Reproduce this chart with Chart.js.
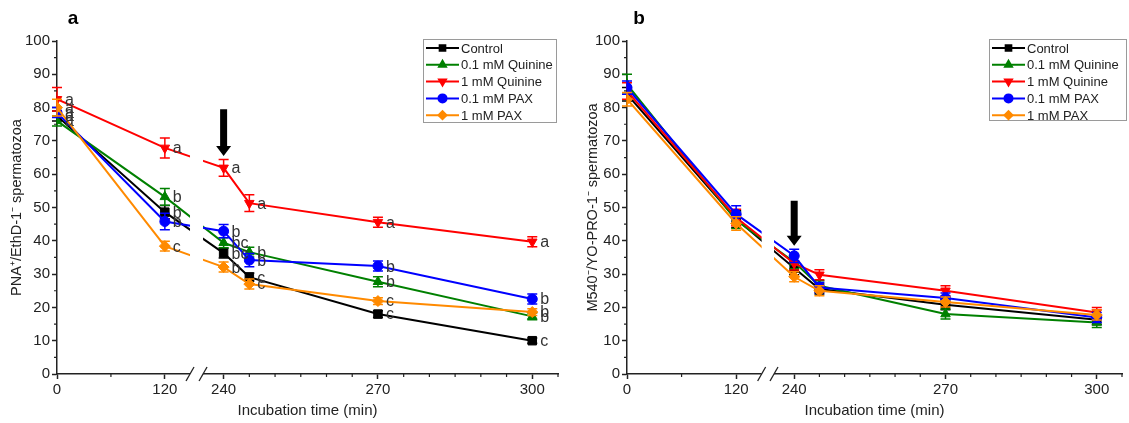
<!DOCTYPE html>
<html>
<head>
<meta charset="utf-8">
<script src="https://cdn.jsdelivr.net/npm/chart.js@4.4.0/dist/chart.umd.min.js"></script>
<style>
   html, body { margin: 0; padding: 0; background: #fff; }
   #wrap { display: flex; width: 1129px; height: 423px; }
   canvas { display: block; }
</style>
</head>
<body>
<div id="wrap">
   <canvas id="chartA" width="565" height="423"></canvas>
   <canvas id="chartB" width="564" height="423"></canvas>
</div>
<script>
/* Données */
const times = [0, 120, 240, 245, 270, 300];
const xTicks = [0, 120, 240, 270, 300];
const xMinorTicks = [60, 245, 250, 255, 260, 265, 275, 280, 285, 290, 295, 305];
const yMinorTicks = [5, 15, 25, 35, 45, 55, 65, 75, 85, 95];

const seriesNames = ['Control', '0.1 mM Quinine', '1 mM Quinine', '0.1 mM PAX', '1 mM PAX'];
const seriesColors = ['#000000', '#008000', '#ff0000', '#0000ff', '#ff8a00'];
const seriesMarkers = ['rect', 'triangle', 'triangle', 'circle', 'rectRot'];
const seriesRotation = [0, 0, 180, 0, 0];
const markerRadius = { rect: 6, triangle: 5.5, circle: 5, rectRot: 5.5 };

// Panneau a : PNA+/EthD-1-
const aControl = [77.5, 48.6, 36.3, 29.1, 18.0, 10.0];
const aQuinine01 = [76.0, 53.2, 39.4, 36.6, 27.7, 17.3];
const aQuinine1 = [82.5, 67.9, 61.9, 51.3, 45.6, 39.7];
const aPax01 = [78.5, 45.8, 42.9, 34.2, 32.4, 22.5];
const aPax1 = [80.0, 38.4, 32.1, 27.0, 21.9, 18.6];

const aControlErr = [1.5, 2.0, 1.5, 1.2, 1.0, 0.8];
const aQuinine01Err = [1.5, 2.5, 1.5, 1.5, 1.5, 1.0];
const aQuinine1Err = [3.5, 3.0, 2.5, 2.5, 1.5, 1.5];
const aPax01Err = [1.5, 2.5, 2.0, 2.0, 1.5, 1.5];
const aPax1Err = [2.5, 1.5, 1.5, 1.5, 1.0, 1.0];

const aControlLetters = ['a', 'b', 'bc', 'c', 'c', 'c'];
const aQuinine01Letters = ['a', 'b', 'bc', 'b', 'b', 'b'];
const aQuinine1Letters = ['a', 'a', 'a', 'a', 'a', 'a'];
const aPax01Letters = ['a', 'b', 'b', 'b', 'b', 'b'];
const aPax1Letters = ['a', 'c', 'b', 'c', 'c', 'b'];

// Panneau b : M540-/YO-PRO-1-
const bControl = [84.0, 46.5, 31.8, 25.5, 20.8, 16.3];
const bQuinine01 = [87.0, 46.2, 33.6, 26.5, 18.0, 15.5];
const bQuinine1 = [85.0, 47.0, 33.2, 29.8, 25.0, 18.5];
const bPax01 = [86.0, 48.0, 35.5, 26.0, 22.8, 17.0];
const bPax1 = [82.5, 45.2, 29.2, 25.0, 21.6, 17.7];

const bControlErr = [2.0, 2.5, 2.0, 1.5, 1.5, 1.5];
const bQuinine01Err = [3.0, 2.5, 2.0, 1.5, 1.5, 1.5];
const bQuinine1Err = [2.5, 2.5, 2.0, 1.5, 1.5, 1.5];
const bPax01Err = [2.0, 2.5, 2.0, 1.5, 1.5, 1.5];
const bPax1Err = [2.0, 2.0, 1.5, 1.5, 1.5, 1.5];

// Flèches (temps, haut, pointe)
const arrowTime = 240;
const arrowA = [79.5, 65.5];
const arrowB = [52.0, 38.5];

const FONT = "'Liberation Sans', Arial, sans-serif";
const INK = '#222222';
Chart.defaults.font.family = FONT;
Chart.defaults.color = INK;

/* Axe x coupé (0..148 // 236..305) */
class BrokenLinearScale extends Chart.LinearScale {
   buildTicks() {
      return xTicks.map(v => ({ value: v }));
   }
   breakPixels() {
      const o = this.options;
      const w1 = this.width * o.brkFrac;
      return [this.left + w1, this.left + w1 + this.width * o.brkGap];
   }
   getPixelForValue(value) {
      const o = this.options;
      const [g0, g1] = this.breakPixels();
      if (value <= o.brkStart) {
         return this.left + (value - this.min) / (o.brkStart - this.min) * (g0 - this.left);
      }
      return g1 + (value - o.brkEnd) / (this.max - o.brkEnd) * (this.right - g1);
   }
   getValueForPixel(pixel) {
      const o = this.options;
      const [g0, g1] = this.breakPixels();
      if (pixel <= g0) return this.min + (pixel - this.left) / (g0 - this.left) * (o.brkStart - this.min);
      return o.brkEnd + (pixel - g1) / (this.right - g1) * (this.max - o.brkEnd);
   }
}
BrokenLinearScale.id = 'brokenLinear';
BrokenLinearScale.defaults = {};
Chart.register(BrokenLinearScale);

function makeDatasets(values, errors) {
   return values.map((vals, i) => ({
      label: seriesNames[i],
      data: times.map((t, k) => ({ x: t, y: vals[k] })),
      errors: errors[i],
      borderColor: seriesColors[i],
      backgroundColor: seriesColors[i],
      pointBackgroundColor: seriesColors[i],
      pointBorderColor: seriesColors[i],
      pointStyle: seriesMarkers[i],
      pointRotation: seriesRotation[i],
      pointRadius: markerRadius[seriesMarkers[i]],
      pointBorderWidth: 1,
      borderWidth: 2,
      tension: 0,
      order: 4 - i
   }));
}

function decorPlugin(cfg) {
   return {
      id: 'decor',
      // Barres d'erreur sous chaque série
      beforeDatasetDraw(chart, args) {
         const ctx = chart.ctx;
         const ds = chart.data.datasets[args.index];
         const y = chart.scales.y;
         ctx.save();
         ctx.strokeStyle = ds.borderColor;
         ctx.lineWidth = 1.5;
         args.meta.data.forEach((pt, k) => {
            const v = ds.data[k].y, e = ds.errors[k];
            const y0 = y.getPixelForValue(v - e), y1 = y.getPixelForValue(v + e);
            ctx.beginPath();
            ctx.moveTo(pt.x, y0); ctx.lineTo(pt.x, y1);
            ctx.moveTo(pt.x - 5, y0); ctx.lineTo(pt.x + 5, y0);
            ctx.moveTo(pt.x - 5, y1); ctx.lineTo(pt.x + 5, y1);
            ctx.stroke();
         });
         ctx.restore();
      },
      afterDatasetsDraw(chart) {
         if (!cfg.letters) return;
         const ctx = chart.ctx;
         ctx.save();
         ctx.font = `16px ${FONT}`;
         ctx.fillStyle = '#333';
         ctx.textAlign = 'left';
         ctx.textBaseline = 'middle';
         chart.data.datasets.forEach((ds, i) => {
            const meta = chart.getDatasetMeta(i);
            meta.data.forEach((pt, k) => {
               ctx.fillText(cfg.letters[i][k], pt.x + 8, pt.y + 1);
            });
         });
         ctx.restore();
      },
      afterDraw(chart) {
         const ctx = chart.ctx;
         const xs = chart.scales.x, ys = chart.scales.y;
         const area = chart.chartArea;
         ctx.save();

         // Coupure de l'axe x
         const [g0, g1] = xs.breakPixels();
         ctx.fillStyle = '#fff';
         ctx.fillRect(g0, area.top, g1 - g0, area.bottom - area.top + 2);
         ctx.strokeStyle = INK;
         ctx.lineWidth = 1.3;
         [g0, g1].forEach(gx => {
            ctx.beginPath();
            ctx.moveTo(gx - 4, area.bottom + 7);
            ctx.lineTo(gx + 4, area.bottom - 7);
            ctx.stroke();
         });

         // Graduations secondaires
         ctx.lineWidth = 1.2;
         ctx.beginPath();
         yMinorTicks.forEach(v => {
            const py = ys.getPixelForValue(v);
            ctx.moveTo(area.left - 3, py); ctx.lineTo(area.left, py);
         });
         xMinorTicks.forEach(v => {
            const px = xs.getPixelForValue(v);
            ctx.moveTo(px, area.bottom); ctx.lineTo(px, area.bottom + 3);
         });
         ctx.stroke();

         // Flèche
         const ax = xs.getPixelForValue(arrowTime);
         const top = ys.getPixelForValue(cfg.arrow[0]);
         const tip = ys.getPixelForValue(cfg.arrow[1]);
         ctx.fillStyle = '#000';
         ctx.beginPath();
         ctx.moveTo(ax - 3.5, top);
         ctx.lineTo(ax + 3.5, top);
         ctx.lineTo(ax + 3.5, tip - 10);
         ctx.lineTo(ax + 7.5, tip - 10);
         ctx.lineTo(ax, tip);
         ctx.lineTo(ax - 7.5, tip - 10);
         ctx.lineTo(ax - 3.5, tip - 10);
         ctx.closePath();
         ctx.fill();

         // Légende
         const L = cfg.legend;
         ctx.strokeStyle = '#9a9a9a';
         ctx.lineWidth = 1;
         ctx.strokeRect(L.left + 0.5, L.top + 0.5, L.width, L.height);
         ctx.font = `13px ${FONT}`;
         ctx.textAlign = 'left';
         ctx.textBaseline = 'middle';
         chart.data.datasets.forEach((ds, i) => {
            const ry = L.top + 9 + i * 16.8;
            ctx.strokeStyle = ds.borderColor;
            ctx.lineWidth = 2;
            ctx.beginPath();
            ctx.moveTo(L.left + 3, ry); ctx.lineTo(L.left + L.line, ry);
            ctx.stroke();
            ctx.fillStyle = ds.borderColor;
            Chart.helpers.drawPoint(ctx, {
               pointStyle: ds.pointStyle, rotation: ds.pointRotation,
               radius: 4, borderWidth: 1
            }, L.left + 3 + (L.line - 3) / 2, ry);
            ctx.fillStyle = INK;
            ctx.fillText(ds.label, L.left + L.line + 2, ry + 1);
         });

         // Lettre du panneau
         ctx.font = `bold 19px ${FONT}`;
         ctx.fillStyle = '#000';
         ctx.textAlign = 'center';
         ctx.textBaseline = 'middle';
         ctx.fillText(cfg.panel, cfg.panelX, 19);
         ctx.restore();
      }
   };
}

function createChart(canvasId, cfg) {
   return new Chart(document.getElementById(canvasId), {
      type: 'line',
      data: { datasets: makeDatasets(cfg.values, cfg.errors) },
      options: {
         responsive: false,
         animation: false,
         events: [],
         layout: { padding: { left: cfg.padLeft, right: cfg.padRight, top: 41, bottom: 0 } },
         scales: {
            x: {
               type: 'brokenLinear',
               min: 0,
               max: 305,
               brkStart: 148,
               brkEnd: 236,
               brkFrac: cfg.brkFrac,
               brkGap: cfg.brkGap,
               afterFit: s => { s.height = 49; },
               ticks: { autoSkip: false, maxRotation: 0, padding: 2, font: { size: 15 }, callback: v => String(v) },
               grid: { drawOnChartArea: false, tickLength: 5, color: INK, tickWidth: 1.5 },
               border: { color: INK, width: 1.5 },
               title: { display: true, text: 'Incubation time (min)', font: { size: 15 }, padding: { bottom: 3 } }
            },
            y: {
               min: 0,
               max: 100,
               afterFit: s => { s.width = cfg.yWidth; },
               ticks: { stepSize: 10, padding: 2, font: { size: 15 } },
               grid: { drawOnChartArea: false, tickLength: 5, color: INK, tickWidth: 1.5 },
               border: { color: INK, width: 1.5 },
               title: { display: true, text: cfg.yTitle, font: { size: 14.5 }, padding: { top: cfg.yTitlePad } }
            }
         },
         plugins: { legend: { display: false }, tooltip: { enabled: false } }
      },
      plugins: [decorPlugin(cfg)]
   });
}

createChart('chartA', {
   values: [aControl, aQuinine01, aQuinine1, aPax01, aPax1],
   errors: [aControlErr, aQuinine01Err, aQuinine1Err, aPax01Err, aPax1Err],
   letters: [aControlLetters, aQuinine01Letters, aQuinine1Letters, aPax01Letters, aPax1Letters],
   yTitle: 'PNA\u207A/EthD-1\u207B spermatozoa',
   yTitlePad: 8,
   padLeft: 0, padRight: 7, yWidth: 57,
   brkFrac: 0.2655, brkGap: 0.026,
   arrow: arrowA,
   legend: { left: 423, top: 39, width: 133, height: 83, line: 36 },
   panel: 'a', panelX: 73
});

createChart('chartB', {
   values: [bControl, bQuinine01, bQuinine1, bPax01, bPax1],
   errors: [bControlErr, bQuinine01Err, bQuinine1Err, bPax01Err, bPax1Err],
   letters: null,
   yTitle: 'M540\u207B/YO-PRO-1\u207B spermatozoa',
   yTitlePad: 19,
   padLeft: 0, padRight: 5, yWidth: 62,
   brkFrac: 0.272, brkGap: 0.025,
   arrow: arrowB,
   legend: { left: 424, top: 39, width: 137, height: 81, line: 36 },
   panel: 'b', panelX: 74
});
</script>
</body>
</html>
